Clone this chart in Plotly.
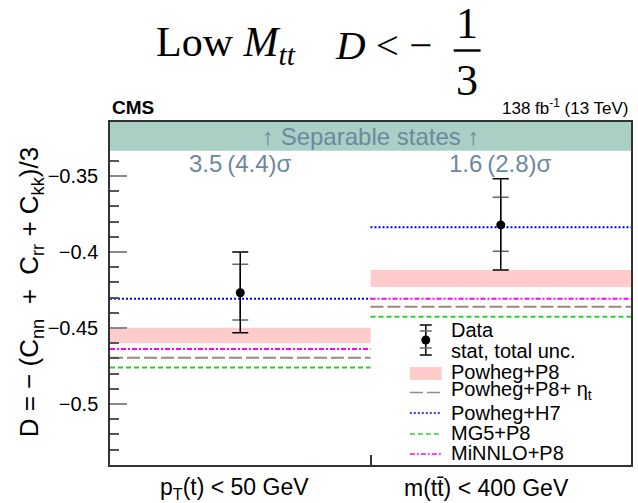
import plotly.graph_objects as go

# ---- data -------------------------------------------------------------
categories = ["p<sub>T</sub>(t) < 50 GeV", "m(tt\u0304) < 400 GeV"]
bin_edges = [0.0, 1.0, 2.0]

data_central = [-0.4268, -0.3822]
total_up = [0.0268, 0.0304]
total_down = [0.0263, 0.0296]
stat_up = [0.0187, 0.0182]
stat_down = [0.0179, 0.0173]

powheg_p8_low = [-0.4601, -0.4230]
powheg_p8_high = [-0.4498, -0.4118]
powheg_p8_eta = [-0.4695, -0.4360]
powheg_h7 = [-0.4307, -0.3838]
mg5_p8 = [-0.4759, -0.4426]
minnlo_p8 = [-0.4638, -0.4307]

obs_significance = ["3.5", "1.6"]
exp_significance = ["4.4", "2.8"]

separable_limit = -1.0 / 3.0
y_range = [-0.5401, -0.3145]
y_ticks = [-0.5, -0.45, -0.4, -0.35]

# ---- page geometry ----------------------------------------------------
W, H = 638, 503
L, R, T, B = 110, 633, 122, 465


def px(x):
    return (x - L) / (R - L)


def py(y):
    return (B - y) / (B - T)


SANS = "Liberation Sans"
SERIF = "Liberation Serif"
SLATE = "#6d88a1"

# line styles of the generator predictions
STYLES = {
    "eta": ("#a08878", "13px,4px"),
    "h7": ("#0000ff", "2px,2px"),
    "mg5": ("#33cc33", "5px,3px"),
    "minnlo": ("#ff00ff", "5px,2px,2px,2px"),
}

fig = go.Figure()

centres = [(bin_edges[i] + bin_edges[i + 1]) / 2 for i in range(len(categories))]


def step_xy(values):
    xs, ys = [], []
    for i, v in enumerate(values):
        xs += [bin_edges[i], bin_edges[i + 1], None]
        ys += [v, v, None]
    return xs, ys


# Powheg+P8 uncertainty band
for i in range(len(categories)):
    x0, x1 = bin_edges[i], bin_edges[i + 1]
    fig.add_trace(go.Scatter(
        x=[x0, x1, x1, x0, x0],
        y=[powheg_p8_low[i], powheg_p8_low[i], powheg_p8_high[i], powheg_p8_high[i], powheg_p8_low[i]],
        fill="toself", fillcolor="#ffcccc", line=dict(width=0), mode="lines",
        hoverinfo="skip", showlegend=False))

# generator predictions
for values, key in [(powheg_p8_eta, "eta"), (powheg_h7, "h7"),
                    (mg5_p8, "mg5"), (minnlo_p8, "minnlo")]:
    colour, dash = STYLES[key]
    xs, ys = step_xy(values)
    fig.add_trace(go.Scatter(x=xs, y=ys, mode="lines",
                             line=dict(color=colour, width=2, dash=dash),
                             hoverinfo="skip", showlegend=False))

# data: stat caps first, total error on top
fig.add_trace(go.Scatter(
    x=centres, y=data_central, mode="markers",
    marker=dict(size=1, color="black"),
    error_y=dict(type="data", symmetric=False, array=stat_up, arrayminus=stat_down,
                 color="#666666", thickness=1.5, width=8),
    showlegend=False))
fig.add_trace(go.Scatter(
    x=centres, y=data_central, mode="markers",
    marker=dict(size=9, color="black"),
    error_y=dict(type="data", symmetric=False, array=total_up, arrayminus=total_down,
                 color="black", thickness=1.5, width=8),
    showlegend=False))

shapes = []
# separable-states band above D = -1/3
shapes.append(dict(type="rect", xref="x domain", yref="y", x0=0, x1=1,
                   y0=separable_limit, y1=y_range[1], fillcolor="#aacfc4",
                   line=dict(width=0), layer="above"))

annotations = []


def note(x, y, text, size, family=SANS, color="black", xref="paper",
         xanchor="center", yanchor="middle", **kw):
    annotations.append(dict(x=x, y=y, xref=xref, yref="paper", text=text,
                            showarrow=False, xanchor=xanchor, yanchor=yanchor,
                            font=dict(family=family, size=size, color=color), **kw))


note(0.5, py(136), "\u2191 Separable states \u2191", 24, color=SLATE)
for c, o, e in zip(centres, obs_significance, exp_significance):
    note(c, py(163), f"{o}\u2009({e})\u03c3", 24, color=SLATE, xref="x")

# category labels
for c, lab, shift in zip(centres, categories, [-6, -14]):
    note(c, py(488), lab, 23, xref="x", xshift=shift)

# y-axis title
note(px(30), py(292),
     "D = \u2212 (C<sub>nn</sub>  +  C<sub>rr</sub> + C<sub>kk</sub>)/3", 26,
     textangle=-90)

# header texts
note(px(110), py(108), "<b>CMS</b>", 19, xanchor="left")
note(px(633), py(107), "138 fb<sup>-1</sup> (13 TeV)", 17, xanchor="right")

# title: Low M_tt   D < -1/3
note(px(154), py(45), "Low <i>M</i><sub><i>tt</i></sub>", 42, family=SERIF, xanchor="left")
note(px(334), py(45), "<i>D</i> < \u2212", 41, family=SERIF, xanchor="left")
note(px(468), py(24), "1", 44, family=SERIF)
note(px(468), py(81), "3", 44, family=SERIF)
shapes.append(dict(type="line", xref="paper", yref="paper",
                   x0=px(455), x1=px(482), y0=py(50.5), y1=py(50.5),
                   line=dict(color="black", width=2.5)))

# ---- legend (drawn by hand inside the frame) -------------------------
leg_text_x = 450
leg_rows = [
    ("Data", 330),
    ("stat, total unc.", 351),
    ("Powheg+P8", 372),
    ("Powheg+P8+ \u03b7<sub>t</sub>", 390),
    ("Powheg+H7", 413),
    ("MG5+P8", 433),
    ("MiNNLO+P8", 453),
]
for txt, yy in leg_rows:
    note(px(leg_text_x), py(yy), txt, 20, xanchor="left")

sx0, sx1, sxc = 411, 443, 427
# data marker symbol
shapes.append(dict(type="line", xref="paper", yref="paper", x0=px(sxc), x1=px(sxc),
                   y0=py(325), y1=py(355), line=dict(color="black", width=1.5)))
for yy, col in [(325, "black"), (355, "black"), (331, "#666666"), (348, "#666666")]:
    shapes.append(dict(type="line", xref="paper", yref="paper", x0=px(sxc - 6), x1=px(sxc + 6),
                       y0=py(yy), y1=py(yy), line=dict(color=col, width=1.5)))
shapes.append(dict(type="circle", xref="paper", yref="paper",
                   x0=px(sxc - 4.5), x1=px(sxc + 4.5), y0=py(344.5), y1=py(335.5),
                   fillcolor="black", line=dict(color="black", width=0)))
shapes.append(dict(type="rect", xref="paper", yref="paper", x0=px(sx0), x1=px(sx1),
                   y0=py(380), y1=py(367), fillcolor="#ffcccc", line=dict(width=0)))
for yy, key in [(392.5, "eta"), (413, "h7"), (434, "mg5"), (454, "minnlo")]:
    colour, dash = STYLES[key]
    shapes.append(dict(type="line", xref="paper", yref="paper", x0=px(sx0), x1=px(sx1),
                       y0=py(yy), y1=py(yy), line=dict(color=colour, width=1.5, dash=dash)))

fig.update_layout(
    width=W, height=H,
    margin=dict(l=L, r=W - R, t=T, b=H - B, pad=0),
    paper_bgcolor="white", plot_bgcolor="white",
    showlegend=False,
    shapes=shapes, annotations=annotations,
    xaxis=dict(range=[bin_edges[0], bin_edges[-1]], tickvals=[bin_edges[1]], ticktext=[""],
               ticks="inside", ticklen=10, tickwidth=2, tickcolor="#333333",
               showline=True, linecolor="#333333", linewidth=1.5, mirror=True,
               showgrid=False, zeroline=False, fixedrange=True),
    yaxis=dict(range=y_range, tickvals=y_ticks,
               ticktext=[f"\u2212{abs(v):g}" for v in y_ticks],
               ticks="inside", ticklen=17, tickwidth=2, tickcolor="#888888",
               minor=dict(dtick=0.01, ticks="inside", ticklen=9, tickwidth=1.5,
                          tickcolor="#555555", showgrid=False),
               showline=True, linecolor="#333333", linewidth=1.5, mirror=True,
               showgrid=False, zeroline=False, ticklabelstandoff=6,
               tickfont=dict(family=SANS, size=20, color="black")),
)

fig.write_html("out.html")
